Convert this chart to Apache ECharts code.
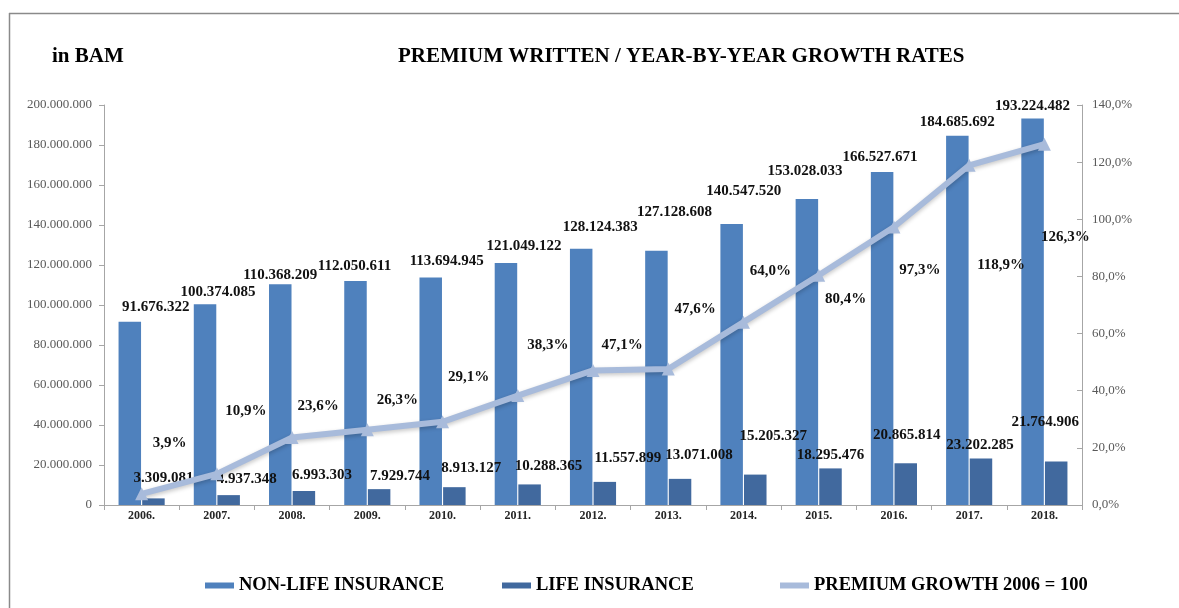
<!DOCTYPE html>
<html>
<head>
<meta charset="utf-8">
<script src="https://cdn.jsdelivr.net/npm/echarts@6/dist/echarts.min.js"></script>
<style>
  html, body { margin: 0; padding: 0; background: #ffffff; }
  #chart { width: 1179px; height: 608px; }
</style>
</head>
<body>
<div id="chart"></div>
<script>
// Years on the category axis
const years = ['2006.', '2007.', '2008.', '2009.', '2010.', '2011.', '2012.',
               '2013.', '2014.', '2015.', '2016.', '2017.', '2018.'];

// Premium written, in BAM
const nonLife = [91676322, 100374085, 110368209, 112050611, 113694945, 121049122, 128124383,
                 127128608, 140547520, 153028033, 166527671, 184685692, 193224482];
const life = [3309081, 4937348, 6993303, 7929744, 8913127, 10288365, 11557899,
              13071008, 15205327, 18295476, 20865814, 23202285, 21764906];

// Premium growth against 2006, in percent
const growth = [3.9, 10.9, 23.6, 26.3, 29.1, 38.3, 47.1, 47.6, 64.0, 80.4, 97.3, 118.9, 126.3];

// Axis ranges
const amountMax = 200000000, amountStep = 20000000;
const percentMax = 140, percentStep = 20;

// Hand-placed label nudges [dx, dy] in pixels
const nonLifeLabelShift = [[26, -7], [13, -5], [0, -2], [-1, -7], [16, -9], [18, -9], [19, -14],
                           [18, -31], [12, -25], [-2, -20], [-2, -7], [0, -6], [0, -5]];
const lifeLabelShift = [[10, -13], [18, -9], [18, -8], [21, -6], [17, -12], [19, -11], [23, -16],
                        [19, -16], [18, -31], [0, -6], [1, -21], [-1, -6], [-11, -32]];
const growthLabelShift = [[28, -51], [29, -63], [26, -31], [30, -30], [26, -45], [30, -50], [29, -25],
                          [27, -60], [27, -51], [27, 24], [26, 43], [32, 100], [21, 93]];

const SERIF = "'Liberation Serif', 'Times New Roman', serif";
const fmtAmount = v => String(Math.round(v)).replace(/\B(?=(\d{3})+(?!\d))/g, '.');
const fmtPercent = v => v.toFixed(1).replace('.', ',') + '%';

const colNonLife = '#4f81bd';
const colLife = '#41699e';
const colGrowth = '#a8bbdb';

const valueLabel = {
  show: true,
  position: 'top',
  distance: 0,
  fontFamily: SERIF,
  fontWeight: 'bold',
  fontSize: 15,
  color: '#111111'
};

const legendBase = {
  icon: 'rect',
  itemWidth: 29, itemHeight: 6, itemGap: 5,
  textStyle: { fontFamily: SERIF, fontWeight: 700, fontSize: 18.5, color: '#000000' }
};

const chart = echarts.init(document.getElementById('chart'), null, { renderer: 'canvas' });

chart.setOption({
  animation: false,
  backgroundColor: '#ffffff',
  grid: { left: 104, right: 97, top: 105, bottom: 103, containLabel: false },
  graphic: [
    // frame
    { type: 'line', shape: { x1: 9, y1: 13.5, x2: 1179, y2: 13.5 }, style: { stroke: '#8a8a8a', lineWidth: 1.5 } },
    { type: 'line', shape: { x1: 9.5, y1: 13, x2: 9.5, y2: 608 }, style: { stroke: '#8a8a8a', lineWidth: 1.5 } },
    { type: 'text', left: 52, top: 46, style: { text: 'in BAM', font: "bold 21px 'Liberation Serif', serif", fill: '#000000' } },
    { type: 'text', left: 398, top: 46, style: { text: 'PREMIUM WRITTEN / YEAR-BY-YEAR GROWTH RATES', font: "bold 21px 'Liberation Serif', serif", fill: '#000000' } }
  ],
  legend: [
    Object.assign({ data: [{ name: 'NON-LIFE INSURANCE', itemStyle: { color: colNonLife } }], left: 200, top: 571 }, legendBase),
    Object.assign({ data: [{ name: 'LIFE INSURANCE', itemStyle: { color: colLife } }], left: 497, top: 571 }, legendBase),
    Object.assign({ data: [{ name: 'PREMIUM GROWTH 2006 = 100', itemStyle: { color: colGrowth } }], left: 775, top: 571 }, legendBase)
  ],
  xAxis: {
    type: 'category',
    data: years,
    axisLine: { lineStyle: { color: '#a6a6a6', width: 1 } },
    axisTick: { show: true, alignWithLabel: false, length: 5, lineStyle: { color: '#a6a6a6' } },
    axisLabel: { fontFamily: SERIF, fontWeight: 'bold', fontSize: 12, color: '#262626', margin: 5 }
  },
  yAxis: [
    {
      type: 'value', min: 0, max: amountMax, interval: amountStep,
      axisLine: { show: true, lineStyle: { color: '#a6a6a6' } },
      axisTick: { show: true, length: 5, lineStyle: { color: '#a6a6a6' } },
      splitLine: { show: false },
      axisLabel: { fontFamily: SERIF, fontSize: 13, color: '#595959', margin: 12, formatter: fmtAmount }
    },
    {
      type: 'value', min: 0, max: percentMax, interval: percentStep,
      axisLine: { show: true, lineStyle: { color: '#a6a6a6' } },
      axisTick: { show: true, length: 5, inside: true, lineStyle: { color: '#a6a6a6' } },
      splitLine: { show: false },
      axisLabel: { fontFamily: SERIF, fontSize: 13, color: '#595959', margin: 10, formatter: v => fmtPercent(v) }
    }
  ],
  series: [
    {
      name: 'NON-LIFE INSURANCE',
      type: 'bar',
      barWidth: 22.5,
      barGap: '5%',
      itemStyle: { color: colNonLife },
      data: nonLife.map((v, i) => ({
        value: v,
        label: Object.assign({}, valueLabel, { offset: nonLifeLabelShift[i], formatter: p => fmtAmount(p.value) })
      })),
      z: 2
    },
    {
      name: 'LIFE INSURANCE',
      type: 'bar',
      barWidth: 22.5,
      itemStyle: { color: colLife },
      data: life.map((v, i) => ({
        value: v,
        label: Object.assign({}, valueLabel, { offset: lifeLabelShift[i], formatter: p => fmtAmount(p.value) })
      })),
      z: 2
    },
    {
      name: 'PREMIUM GROWTH 2006 = 100',
      type: 'line',
      yAxisIndex: 1,
      symbol: 'triangle',
      symbolSize: 13,
      lineStyle: { color: colGrowth, width: 6, shadowColor: 'rgba(0,0,0,0.22)', shadowBlur: 4, shadowOffsetY: 2 },
      itemStyle: { color: colGrowth },
      data: growth.map((v, i) => ({
        value: v,
        label: Object.assign({}, valueLabel, { position: 'inside', distance: 0, offset: growthLabelShift[i], formatter: p => fmtPercent(p.value) })
      })),
      z: 5
    }
  ]
});
</script>
</body>
</html>
